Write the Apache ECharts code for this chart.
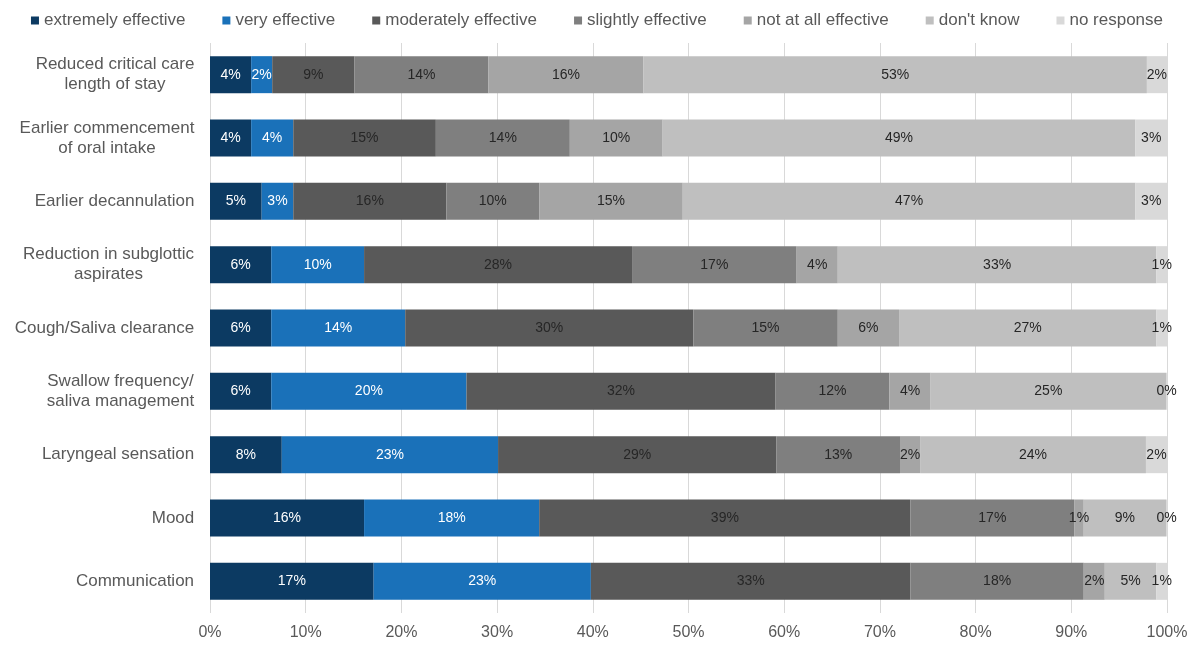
<!DOCTYPE html>
<html>
<head>
<meta charset="utf-8">
<script src="https://cdn.jsdelivr.net/npm/echarts@6/dist/echarts.min.js"></script>
<style>
  html, body { margin: 0; padding: 0; background: #ffffff; }
  #chart { width: 1194px; height: 645px; }
</style>
</head>
<body>
<div id="chart"></div>
<script>
// Survey outcomes: share of responses per rating, each row sums to 100%
const categories = [
  'Reduced critical care\nlength of stay',
  'Earlier commencement\nof oral intake',
  'Earlier decannulation',
  'Reduction in subglottic\naspirates',
  'Cough/Saliva clearance',
  'Swallow frequency/\nsaliva management',
  'Laryngeal sensation',
  'Mood',
  'Communication'
];

const ratingNames = [
  'extremely effective',
  'very effective',
  'moderately effective',
  'slightly effective',
  'not at all effective',
  "don't know",
  'no response'
];

const extremelyEffective = [4.3, 4.3, 5.4, 6.4, 6.4, 6.4, 7.5, 16.1, 17.1];
const veryEffective      = [2.2, 4.4, 3.3, 9.7, 14.0, 20.4, 22.6, 18.3, 22.7];
const moderatelyEffective= [8.6, 14.9, 16.0, 28.0, 30.1, 32.3, 29.1, 38.8, 33.4];
const slightlyEffective  = [14.0, 14.0, 9.7, 17.2, 15.1, 11.9, 12.9, 17.1, 18.1];
const notAtAllEffective  = [16.2, 9.7, 15.0, 4.3, 6.4, 4.3, 2.1, 1.0, 2.2];
const dontKnow           = [52.6, 49.4, 47.3, 33.3, 26.9, 24.6, 23.6, 8.6, 5.4];
const noResponse         = [2.1, 3.3, 3.3, 1.1, 1.1, 0.1, 2.2, 0.1, 1.1];

const xTicks = [0, 10, 20, 30, 40, 50, 60, 70, 80, 90, 100];

const seriesValues = [
  extremelyEffective, veryEffective, moderatelyEffective, slightlyEffective,
  notAtAllEffective, dontKnow, noResponse
];
const colors = ['#0c3a62', '#1a71b9', '#595959', '#7f7f7f', '#a5a5a5', '#bfbfbf', '#d9d9d9'];
const labelColors = ['#ffffff', '#ffffff', '#262626', '#262626', '#262626', '#262626', '#262626'];

const FONT = '"Liberation Sans", Arial, sans-serif';
const CAT_FONT_SIZE = 17;

// Multi-line category labels: block is right-aligned to the axis,
// lines are centred within the block (width = widest line).
const measureCtx = document.createElement('canvas').getContext('2d');
measureCtx.font = CAT_FONT_SIZE + 'px ' + FONT;
const catRich = {};
categories.forEach((c, i) => {
  const w = Math.max(...c.split('\n').map(s => measureCtx.measureText(s).width));
  catRich['c' + i] = {
    width: Math.ceil(w) + 1,
    align: 'center',
    fontSize: CAT_FONT_SIZE,
    lineHeight: 20,
    color: '#595959',
    fontFamily: FONT
  };
});

const chart = echarts.init(document.getElementById('chart'));
chart.setOption({
  animation: false,
  color: colors,
  textStyle: { fontFamily: FONT },
  legend: {
    top: 7,
    left: 'center',
    icon: 'rect',
    itemWidth: 8,
    itemHeight: 8,
    itemGap: 37,
    textStyle: { fontSize: 17, color: '#595959', fontFamily: FONT },
    data: ratingNames
  },
  grid: { left: 210, right: 27, top: 43, bottom: 32, containLabel: false },
  xAxis: {
    type: 'value',
    min: 0,
    max: 100,
    interval: 10,
    axisLine: { show: false },
    axisTick: { show: false },
    splitLine: { show: true, lineStyle: { color: '#d9d9d9', width: 1 } },
    axisLabel: {
      fontSize: 16,
      color: '#595959',
      margin: 12,
      formatter: v => (xTicks.includes(v) ? v + '%' : '')
    }
  },
  yAxis: {
    type: 'category',
    inverse: true,
    data: categories,
    axisLine: { show: false },
    axisTick: { show: false },
    axisLabel: {
      margin: 15,
      align: 'right',
      formatter: (v, i) => '{c' + i + '|' + v + '}',
      rich: catRich
    }
  },
  series: ratingNames.map((name, i) => ({
    name: name,
    type: 'bar',
    stack: 'total',
    barWidth: 37,
    data: seriesValues[i],
    itemStyle: { color: colors[i] },
    label: {
      show: true,
      position: 'inside',
      fontSize: 14,
      color: labelColors[i],
      fontFamily: FONT,
      formatter: p => Math.round(p.value) + '%'
    },
    emphasis: { disabled: true }
  }))
});
</script>
</body>
</html>
